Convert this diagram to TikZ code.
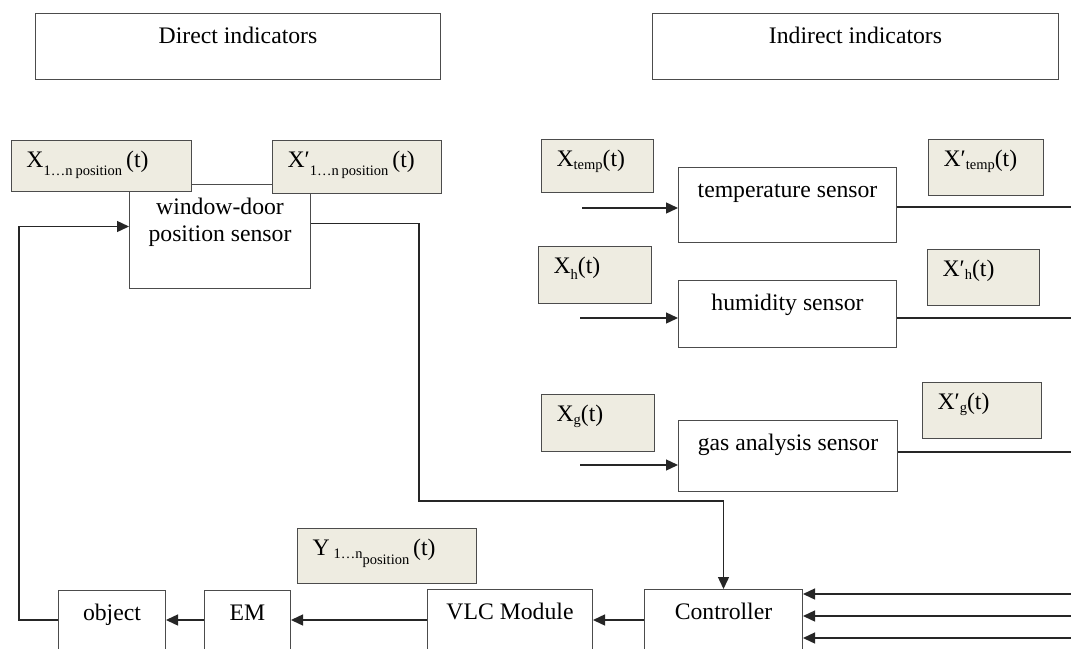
\documentclass[tikz,border=0pt]{standalone}
\usepackage{fontspec}
\setmainfont{Liberation Serif}
\usetikzlibrary{arrows.meta,positioning}
\definecolor{sigfill}{RGB}{238,236,225}
\newcommand{\lowsub}[2]{\raisebox{-#1}{\fontsize{14.5pt}{15pt}\selectfont #2}}
\newcommand{\subgap}{\hspace{0.2em}}
\tikzset{
  unit/.style={draw=black!70, line width=1pt, fill=white, anchor=north west, inner xsep=0pt, inner ysep=0pt, text height=30pt},
  sig/.style={draw=black!70, line width=1pt, fill=sigfill, anchor=north west, inner xsep=15pt, inner ysep=0pt, text height=27pt, align=left},
  link/.style={draw=black!85, line width=1.4pt},
  flow/.style={link, -{Triangle[length=12pt,width=11pt]}}
}

\begin{document}
\begin{tikzpicture}[x=1pt, y=-1pt, font=\fontsize{23.7pt}{27pt}\selectfont]
  \useasboundingbox (0,0) rectangle (1071,648);
  \clip (0,0) rectangle (1071,648);

  % headers
  \node[unit, minimum width=405pt, text depth=36pt] (direct) at (35,13) {Direct indicators};
  \node[unit, minimum width=406pt, text depth=36pt] (indirect) at (652,13) {Indirect indicators};

  % sensors
  \node[unit, minimum width=181pt, text depth=74pt] (wds) at (129,184)
    {\begin{tabular}[t]{@{}c@{}}window-door\\position sensor\end{tabular}};
  \node[unit, minimum width=218pt, text depth=45pt] (tsens) at (678,167) {temperature sensor};
  \node[unit, minimum width=218pt, text depth=37pt] (hsens) at (678,280) {humidity sensor};
  \node[unit, minimum width=219pt, text depth=41pt] (gsens) at (678,420) {gas analysis sensor};

  % control chain
  \node[unit, minimum width=107pt, text depth=50pt] (object) at (58,590) {object};
  \node[unit, minimum width=86pt, text depth=50pt] (em) at (204,590) {EM};
  \node[unit, minimum width=165pt, text depth=50pt] (vlc) at (427,589) {VLC Module};
  \node[unit, minimum width=158pt, text depth=50pt] (ctrl) at (644,589) {Controller};

  % sensor inputs and outputs
  \coordinate (tin) at (582,208);
  \coordinate (tout) at (1071,207);
  \coordinate (hin) at (580,318);
  \coordinate (hout) at (1071,318);
  \coordinate (gin) at (580,465);
  \coordinate (gout) at (1071,452);
  \draw[flow] (tin) -- (tin -| tsens.west);
  \draw[link] (tout -| tsens.east) -- (tout);
  \draw[flow] (hin) -- (hin -| hsens.west);
  \draw[link] (hout -| hsens.east) -- (hout);
  \draw[flow] (gin) -- (gin -| gsens.west);
  \draw[link] (gout -| gsens.east) -- (gout);

  % window-door sensor to controller
  \coordinate (bend) at (419,501);
  \draw[flow] ([yshift=13pt]wds.east) -| (bend) -| (ctrl.north);

  % controller -> VLC -> EM -> object -> back to sensor
  \coordinate (chain) at (0,620);
  \coordinate (fb) at (19,620);
  \draw[flow] (chain -| ctrl.west) -- (chain -| vlc.east);
  \draw[flow] (chain -| vlc.west) -- (chain -| em.east);
  \draw[flow] (chain -| em.west) -- (chain -| object.east);
  \draw[flow] (fb -| object.west) -- (fb) |- ([yshift=10pt]wds.west);

  % indirect signals into the controller
  \foreach \y/\k in {594/1,616/2,638/3}{
    \coordinate (cin\k) at (1071,\y);
    \draw[flow] (cin\k) -- (cin\k -| ctrl.east);
  }

  % signal labels
  \node[sig, text width=150pt, text depth=24pt] (x1) at (11,140) {X\lowsub{8pt}{1…n\subgap position}\,(t)};
  \node[sig, text width=139pt, text depth=26pt] (x1p) at (272,140) {X′\lowsub{8pt}{1…n\subgap position}\,(t)};
  \node[sig, text width=82pt, text depth=26pt] (xtemp) at (541,139) {X\lowsub{3pt}{temp}(t)};
  \node[sig, text width=85pt, text depth=29pt] (xptemp) at (928,139) {X′\lowsub{3pt}{temp}(t)};
  \node[sig, text width=83pt, text depth=30pt] (xh) at (538,246) {X\lowsub{6pt}{h}(t)};
  \node[sig, text width=82pt, text depth=29pt] (xph) at (927,249) {X′\lowsub{3pt}{h}(t)};
  \node[sig, text width=83pt, text depth=30pt] (xg) at (541,394) {X\lowsub{3pt}{g}(t)};
  \node[sig, text width=89pt, text depth=29pt] (xpg) at (922,382) {X′\lowsub{3pt}{g}(t)};
  \node[sig, text width=149pt, text depth=28pt] (ylbl) at (297,528) {Y\,\lowsub{3pt}{1…n}\lowsub{9pt}{position}\,(t)};
\end{tikzpicture}
\end{document}
